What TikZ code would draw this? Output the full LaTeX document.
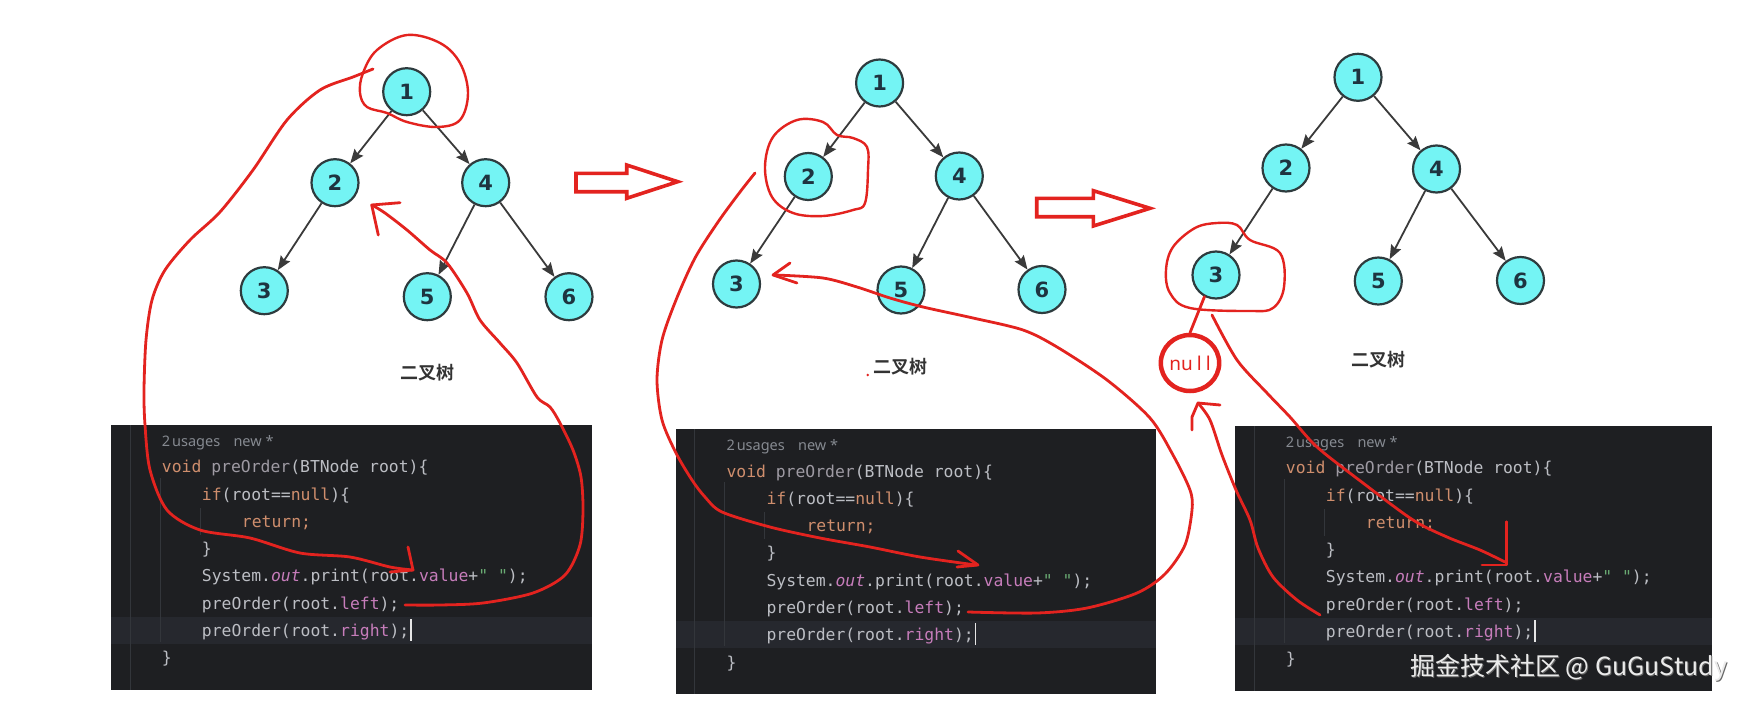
\documentclass[tikz,border=0pt]{standalone}
\usepackage{fontspec}
\usetikzlibrary{arrows.meta,shapes.geometric}
\newfontfamily\codefont{DejaVu Sans Mono}[Ligatures=TeXOff]
\newfontfamily\uifont{Noto Sans}
\newfontfamily\numfont{DejaVu Sans}[BoldFont={DejaVu Sans Bold}]
\newfontfamily\cjkfont{Noto Sans CJK SC}[BoldFont={Noto Sans CJK SC Bold}]
\definecolor{redpen}{HTML}{E3231F}
\definecolor{codebg}{HTML}{1E1F22}
\definecolor{curln}{HTML}{26282E}
\definecolor{guidec}{HTML}{33363B}
\definecolor{cfg}{HTML}{BCBEC4}
\definecolor{ckwc}{HTML}{CF8E6D}
\definecolor{cfnc}{HTML}{9E9AA3}
\definecolor{cfdc}{HTML}{C77DBB}
\definecolor{cstc}{HTML}{6AAB73}
\definecolor{cgray}{HTML}{868A91}
\definecolor{tfill}{HTML}{74F4F4}
\definecolor{tline}{HTML}{2E3B3E}
\definecolor{tnum}{HTML}{1E3440}
\definecolor{tedge}{HTML}{3A3A3A}
\definecolor{lblc}{HTML}{333333}
\newcommand\kwc[1]{\textcolor{ckwc}{#1}}
\newcommand\fnc[1]{\textcolor{cfnc}{#1}}
\newcommand\fdc[1]{\textcolor{cfdc}{#1}}
\newcommand\stc[1]{\textcolor{cstc}{#1}}
\tikzset{
  tn/.style={circle, draw=tline, fill=tfill, line width=2.2pt, minimum size=47pt, inner sep=0pt,
    font=\numfont\bfseries\fontsize{21}{21}\selectfont, text=tnum},
  te/.style={draw=tedge, line width=1.8pt, -{Stealth[length=14pt,width=11pt,inset=2pt]}},
  lbl/.style={font=\cjkfont\bfseries\fontsize{18}{18}\selectfont, text=lblc, inner sep=0pt},
  codeln/.style={anchor=base west, inner sep=0pt, text=cfg, font=\codefont\fontsize{16.4}{16.4}\selectfont},
  usage/.style={anchor=base west, inner sep=0pt, text=cgray, font=\uifont\fontsize{14.5}{14.5}\selectfont},
  pen/.style={draw=redpen, line width=2.8pt, line cap=round, line join=round},
  hollow/.style={draw=redpen, line width=3.6pt, line join=miter},
  guide/.style={draw=guidec, line width=1pt},
  cursorln/.style={draw=white!90!black, line width=1.6pt},
}
\newcommand\bintree[7]{%
  \node[tn] (#1n1) at #2 {1};
  \node[tn] (#1n2) at #3 {2};
  \node[tn] (#1n4) at #4 {4};
  \node[tn] (#1n3) at #5 {3};
  \node[tn] (#1n5) at #6 {5};
  \node[tn] (#1n6) at #7 {6};
  \draw[te] (#1n1) -- (#1n2);
  \draw[te] (#1n1) -- (#1n4);
  \draw[te] (#1n2) -- (#1n3);
  \draw[te] (#1n4) -- (#1n5);
  \draw[te] (#1n4) -- (#1n6);
}
\newcommand\codepanel[4]{%
\begin{scope}[shift={(#2,#3)}]
  \fill[codebg] (0,0) rectangle (#4,265);
  \fill[curln] (0,191.5) rectangle (#4,218.5);
  \draw[guide] (19,0) -- (19,265);
  \draw[guide] (49,53) -- (49,217);
  \draw[guide] (89,83) -- (89,110);
  \node[usage] (#1us) at (50.7,21) {2\hspace{2pt}usages};
  \node[usage] (#1nw) at (122.3,21) {new *};
  \node[codeln] (#1la) at (50.7,47.7) {\kwc{void} \fnc{preOrder}(BTNode root)\{};
  \node[codeln] (#1lb) at (90.7,75) {\kwc{if}(root==\kwc{null})\{};
  \node[codeln] (#1lc) at (130.7,102.3) {\kwc{return;}};
  \node[codeln] (#1ld) at (90.7,129.6) {\}};
  \node[codeln] (#1le) at (90.7,156.9) {System.\fdc{\itshape out}.print(root.\fdc{value}+\stc{" "});};
  \node[codeln] (#1lf) at (90.7,184.2) {preOrder(root.\fdc{left});};
  \node[codeln] (#1lg) at (90.7,211.5) {preOrder(root.\fdc{right});};
  \node[codeln] (#1lh) at (50.7,238.8) {\}};
  \draw[cursorln] ([shift={(1.5,4)}]#1lg.base east) -- ++(0,-22);
\end{scope}}
\begin{document}
\begin{tikzpicture}[x=1pt,y=-1pt]
\useasboundingbox[fill=white] (0,0) rectangle (1757,704);
% trees
\bintree{p1}{(406.7,91.7)}{(335,182.7)}{(485.7,182.7)}{(264.3,290.7)}{(427.3,296.7)}{(569,296.7)}
\bintree{p2}{(879.6,83)}{(808.3,176.5)}{(959.3,176)}{(736.5,284)}{(901,290)}{(1042,289.5)}
\bintree{p3}{(1358,77.3)}{(1286,168)}{(1436.5,169)}{(1216,275)}{(1378.3,281)}{(1520.5,280.5)}
\node[lbl] (t1) at (427.5,373) {二叉树};
\node[lbl] (t2) at (900,366.7) {二叉树};
\node[lbl] (t3) at (1378,360) {二叉树};
\fill[redpen] (867.7,375) circle (1.3);
% code panels
\codepanel{c1}{111}{425}{480.6}
\codepanel{c2}{675.6}{429.3}{480}
\codepanel{c3}{1235}{426}{477}
% hollow arrows
\draw[hollow] (576,173.3) -- (626.7,173.3) -- (626.7,165) -- (677.7,181.7) -- (626.7,198.3) -- (626.7,191.7) -- (576,191.7) -- cycle;
\draw[hollow] (1036.7,198.3) -- (1093.3,198.3) -- (1093.3,190.7) -- (1150,208.3) -- (1093.3,226) -- (1093.3,216.7) -- (1036.7,216.7) -- cycle;
% panel 1 annotations
\draw[pen, line width=2.4pt] plot[smooth cycle, tension=0.6] coordinates {(363,73) (377,50) (407,35) (440,43) (460,63) (468,93) (460,120) (437,127) (407,122) (387,113) (367,107) (360,93)};
\draw[pen] plot[smooth, tension=0.5] coordinates {(373,69) (353,77) (320,90) (287,120) (253,170) (220,212) (190,240) (165,270) (152,300) (146,340) (144,390) (145,425) (150,470) (167,510) (200,530) (250,538) (300,553) (350,557) (390,567) (413,570)};
\draw[pen] (408,547) -- (413,570) -- (390,572);
\draw[pen] plot[smooth, tension=0.5] coordinates {(405,605) (440,605) (483,603) (533,593) (565,575) (580,545) (583,510) (581,477) (573,450) (560,423) (550,407) (537,397) (517,363) (500,343) (480,320) (467,293) (447,263) (430,250) (407,230) (385,213) (372,205)};
\draw[pen] (400,202.7) -- (371.7,205) -- (378.3,235);
% panel 2 annotations
\draw[pen, line width=2.4pt] plot[smooth cycle, tension=0.6] coordinates {(837,135) (823,122) (797,120) (773,137) (765,167) (772,197) (793,213) (823,216) (853,210) (865,203) (868,170) (867,147) (853,138)};
\draw[pen] plot[smooth, tension=0.5] coordinates {(755,173) (740,192) (718,222) (695,258) (676,300) (662,340) (657,380) (662,420) (676,453) (692,480) (705,497) (722,512) (770,527) (820,538) (870,547) (920,557) (976,565)};
\draw[pen] (958,551) -- (978,565) -- (957,567);
\draw[pen] plot[smooth, tension=0.5] coordinates {(968,612) (1037,613) (1087,608) (1137,593) (1165,574) (1185,545) (1192,510) (1190,490) (1173,455) (1150,418) (1107,380) (1057,347) (1023,330) (973,318) (923,307) (890,298) (857,287) (823,278) (775,275)};
\draw[pen] (790,263) -- (773,275) -- (797,283);
% panel 3 annotations
\draw[pen, line width=2.4pt] plot[smooth cycle, tension=0.6] coordinates {(1173,247) (1195,228) (1217,223) (1237,225) (1250,240) (1280,253) (1284,287) (1273,308) (1250,311) (1190,308) (1170,293) (1166,270)};
\node[ellipse, draw=redpen, line width=4.5pt, minimum width=50pt, minimum height=56pt, inner sep=0pt,
  text=redpen, font=\uifont\fontsize{19}{19}\selectfont] (nul) at (1190,363) {nu\kern4pt l\kern4pt l};
\draw[pen] (p3n3.-118) -- (nul.north);
\draw[pen] plot[smooth, tension=0.5] coordinates {(1320,615) (1297,600) (1273,577) (1258,548) (1250,520) (1236,490) (1222,455) (1210,420) (1198,403)};
\draw[pen] (1220,405) -- (1198,403) -- (1192,417) -- (1192,430);
\draw[pen] plot[smooth, tension=0.5] coordinates {(1212,315) (1237,360) (1267,393) (1290,417) (1317,447) (1363,483) (1413,520) (1447,537) (1480,550) (1505,562)};
\draw[pen] (1506.7,521.7) -- (1506.7,565) -- (1482,565);
% watermark
\node[anchor=west, inner sep=0pt, text=black!60, font=\cjkfont\fontsize{25}{25}\selectfont] (wms) at (1411,669) {掘金技术社区 @ GuGuStudy};
\node[anchor=west, inner sep=0pt, text=white!92!black, font=\cjkfont\fontsize{25}{25}\selectfont] (wm) at (1410,668) {掘金技术社区 @ GuGuStudy};
\end{tikzpicture}
\end{document}
